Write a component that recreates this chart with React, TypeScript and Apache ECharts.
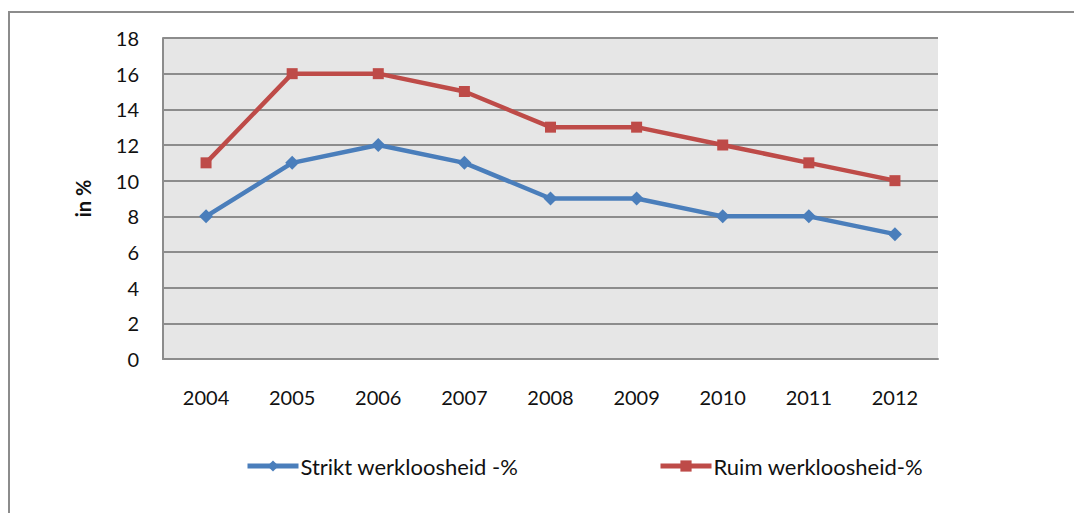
import React, { useEffect, useRef } from "react";
import * as echarts from "echarts";

const categories = ["2004", "2005", "2006", "2007", "2008", "2009", "2010", "2011", "2012"];
const striktValues = [8, 11, 12, 11, 9, 9, 8, 8, 7];
const ruimValues = [11, 16, 16, 15, 13, 13, 12, 11, 10];
const striktName = "Strikt werkloosheid -%";
const ruimName = "Ruim werkloosheid-%";
const yAxisName = "in %";

const FONT = "Lato, 'Open Sans', sans-serif";

export default function App() {
  const ref = useRef<HTMLDivElement>(null);
  useEffect(() => {
    document.body.style.margin = "0";
    if (!ref.current) return;
    const chart = echarts.init(ref.current, null, { renderer: "svg" });
    const legendCommon = {
      top: 450,
      itemWidth: 51,
      itemHeight: 14,
      itemGap: 2,
      lineStyle: { width: 5 },
      textStyle: { fontSize: 22, color: "#111", fontFamily: FONT, padding: [0, 0, 0, -3] },
    };
    chart.setOption({
      animation: false,
      backgroundColor: "#ffffff",
      textStyle: { fontFamily: FONT },
      graphic: [
        {
          type: "rect",
          shape: { x: 9, y: 12, width: 1200, height: 600 },
          style: { fill: "none", stroke: "#8c8c8c", lineWidth: 2 },
          silent: true,
          z: -10,
        },
      ],
      grid: {
        left: 163,
        top: 38,
        width: 775,
        height: 321,
        show: true,
        backgroundColor: "#e6e6e6",
        borderWidth: 0,
      },
      legend: [
        { ...legendCommon, data: [striktName], left: 240 },
        { ...legendCommon, data: [ruimName], left: 653 },
      ],
      xAxis: {
        type: "category",
        data: categories,
        boundaryGap: true,
        axisLine: { show: true, lineStyle: { color: "#8c8c8c", width: 2 } },
        axisTick: { show: false },
        axisLabel: { fontSize: 20, color: "#111", margin: 28, fontFamily: FONT },
        splitLine: { show: false },
      },
      yAxis: {
        type: "value",
        min: 0,
        max: 18,
        interval: 2,
        name: yAxisName,
        nameLocation: "middle",
        nameGap: 70,
        nameRotate: 90,
        nameTextStyle: { fontSize: 20, fontWeight: "bold", color: "#111", fontFamily: FONT },
        axisLine: { show: true, lineStyle: { color: "#8c8c8c", width: 2 } },
        axisTick: { show: false },
        axisLabel: { fontSize: 20, color: "#111", margin: 24, fontFamily: FONT },
        splitLine: { show: true, lineStyle: { color: "#8c8c8c", width: 2 } },
      },
      series: [
        {
          name: striktName,
          type: "line",
          data: striktValues,
          symbol: "diamond",
          symbolSize: 14,
          itemStyle: { color: "#4a7ebb" },
          lineStyle: { color: "#4a7ebb", width: 4.5 },
        },
        {
          name: ruimName,
          type: "line",
          data: ruimValues,
          symbol: "rect",
          symbolSize: 11,
          itemStyle: { color: "#be4b48" },
          lineStyle: { color: "#be4b48", width: 4.5 },
        },
      ],
    });
    return () => chart.dispose();
  }, []);
  return <div ref={ref} style={{ width: 1074, height: 513 }} />;
}
